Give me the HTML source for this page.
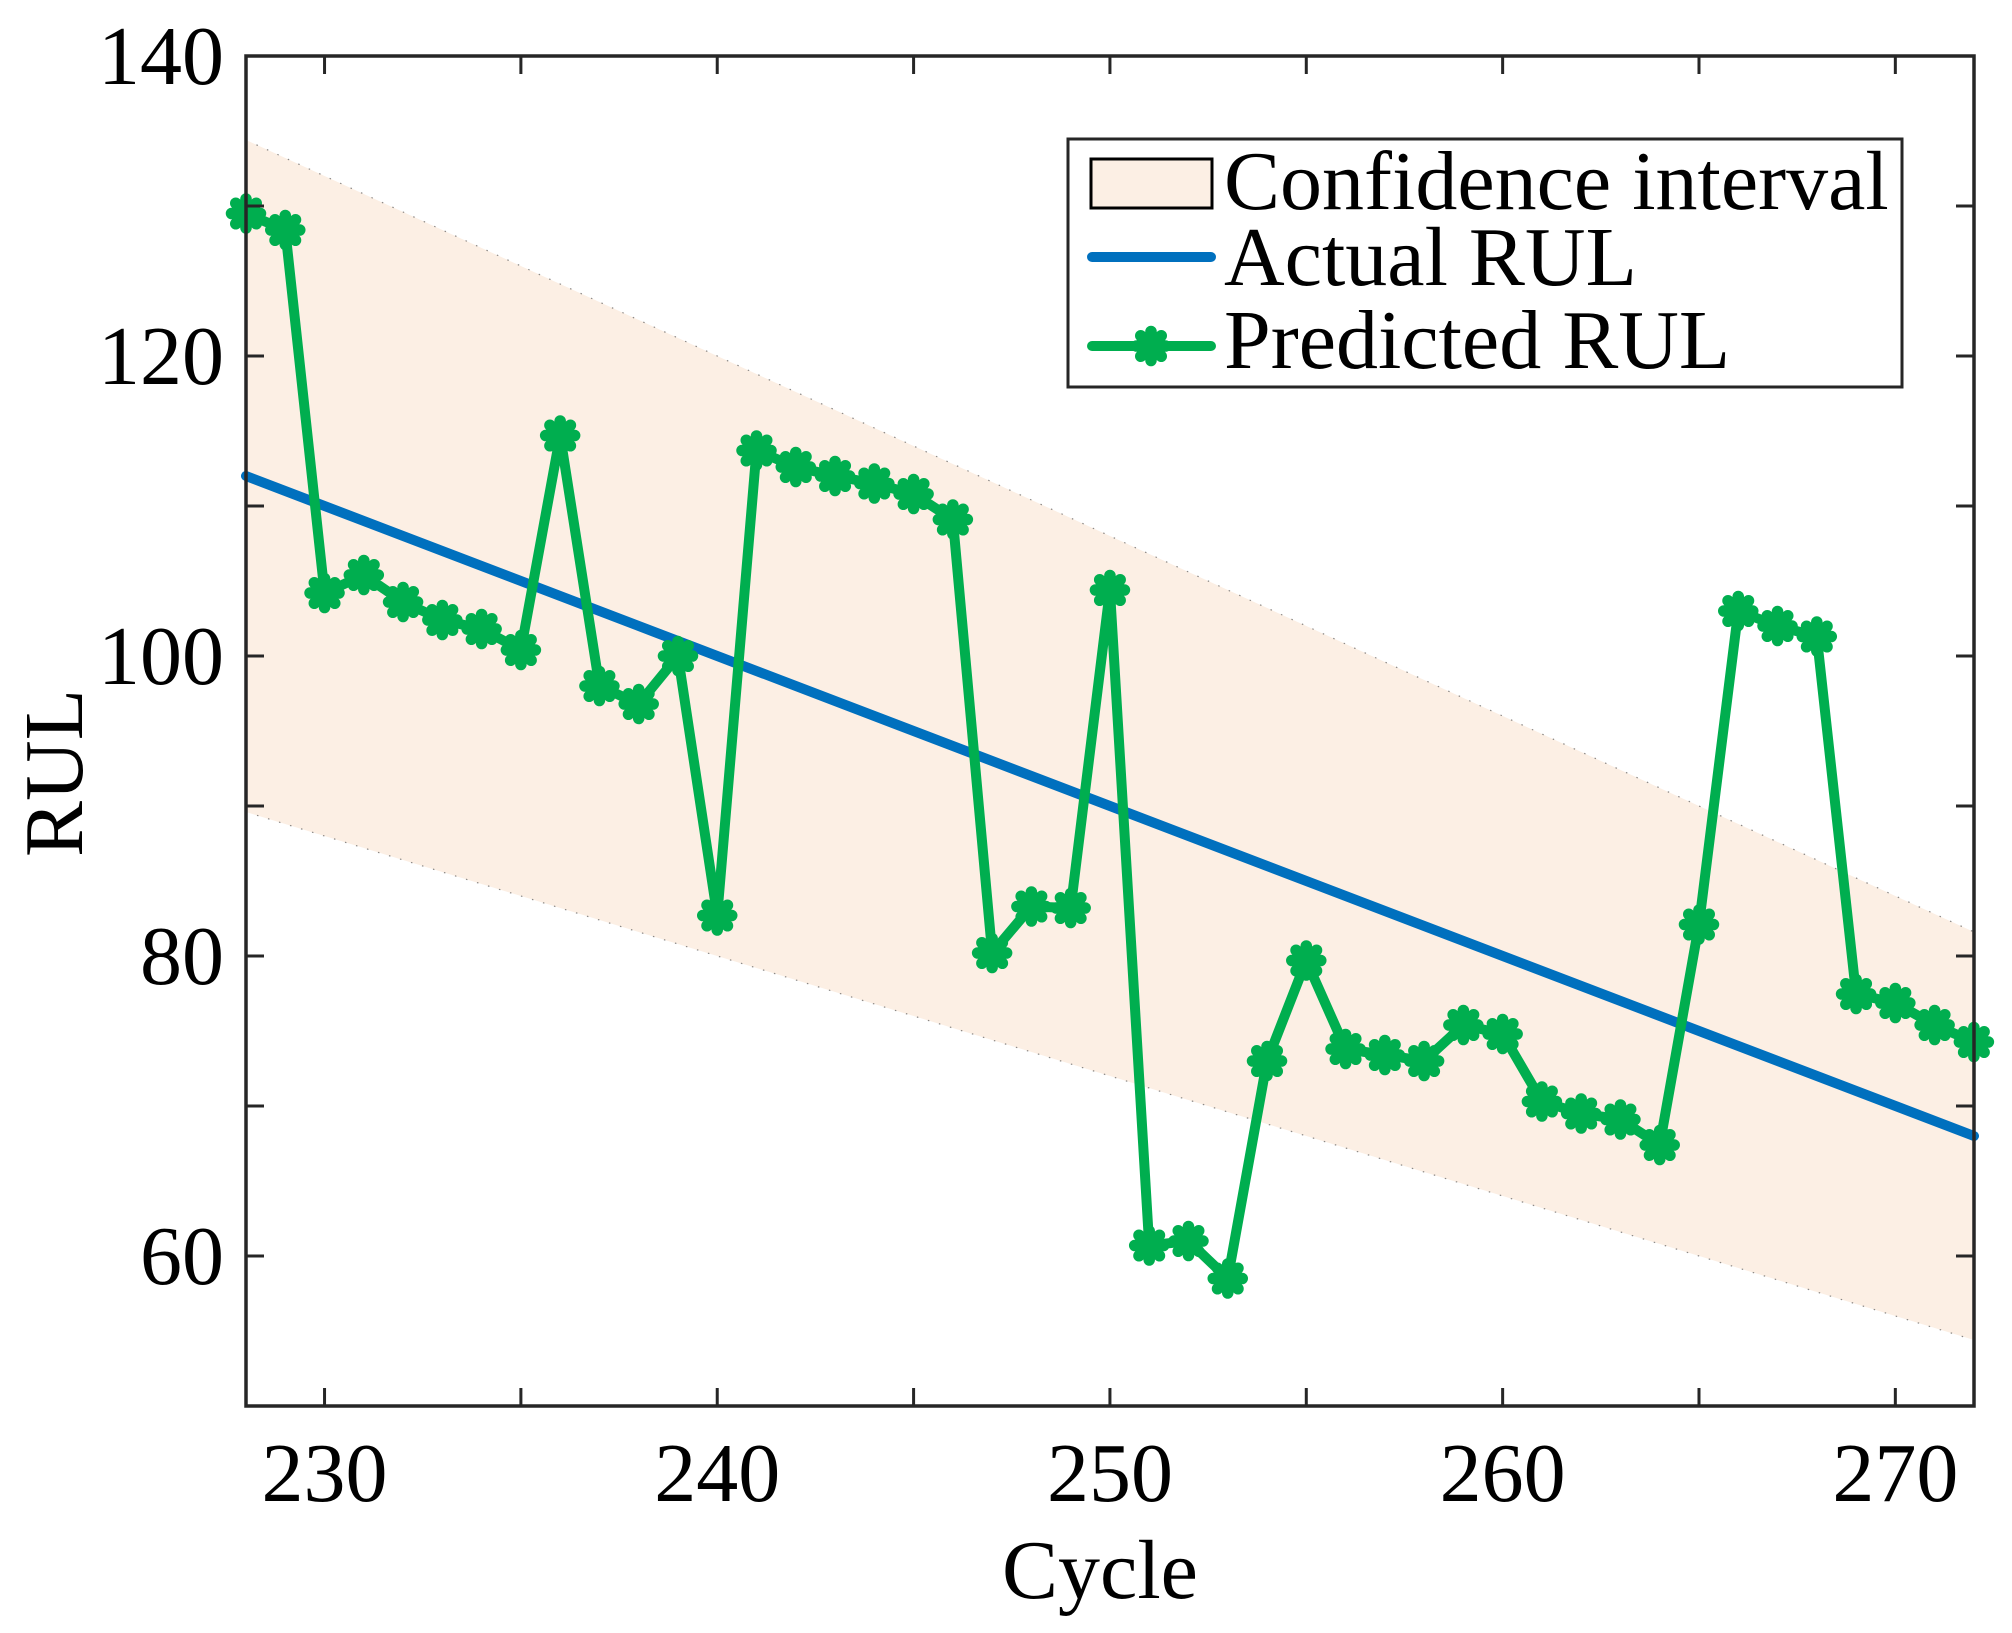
<!DOCTYPE html>
<html>
<head>
<meta charset="utf-8">
<style>
html,body{margin:0;padding:0;background:#fff;}
svg{display:block;}
text{font-family:"Liberation Serif","Times New Roman",serif;fill:#000;font-size:84px;}
</style>
</head>
<body>
<svg width="2012" height="1633" viewBox="0 0 2012 1633" xmlns="http://www.w3.org/2000/svg">
<defs>
<marker id="s" markerUnits="userSpaceOnUse" markerWidth="60" markerHeight="60" refX="30" refY="30" overflow="visible">
<path d="M15.5 30H44.5M30 15.5V44.5M19.75 19.75L40.25 40.25M19.75 40.25L40.25 19.75" stroke="#00AE4F" stroke-width="11.5" stroke-linecap="round" fill="none"/>
</marker>
</defs>
<rect width="2012" height="1633" fill="#fff"/>
<polygon points="246,140 1974,932 1974,1340 246,812" fill="#FCEFE4"/>
<path d="M246 140L1974 932M246 812L1974 1340" stroke="#000" stroke-width="1.2" stroke-dasharray="1.5 10" opacity="0.45" fill="none"/>
<line x1="246" y1="476" x2="1974" y2="1136" stroke="#0070BE" stroke-width="10" stroke-linecap="round"/>
<polyline fill="none" stroke="#00AE4F" stroke-width="10" stroke-linejoin="round" stroke-linecap="round" marker-start="url(#s)" marker-mid="url(#s)" marker-end="url(#s)" points="246,213.5 285.27,230 324.54,593 363.81,575 403.08,602 442.35,620 481.62,629 520.89,650 560.16,435.5 599.43,686 638.7,704 677.97,656 717.24,915.5 756.51,450.5 795.78,467 835.05,476 874.32,483.5 913.59,494 952.86,519.5 992.13,953 1031.4,906.5 1070.67,908 1109.94,590 1149.21,1245.5 1188.48,1241 1227.75,1278.5 1267.02,1061 1306.29,960.5 1345.56,1049 1384.83,1055 1424.1,1061 1463.37,1025 1502.64,1034 1541.91,1101.5 1581.18,1113.5 1620.45,1119.5 1659.72,1145 1698.99,924.5 1738.26,611 1777.53,626 1816.8,636.5 1856.07,994 1895.34,1003 1934.61,1025 1973.88,1042"/>
<rect x="246" y="56" width="1728" height="1350" fill="none" stroke="#262626" stroke-width="3.5"/>
<path stroke="#262626" stroke-width="3" fill="none" d="M324.54 1406v-18M520.89 1406v-18M717.24 1406v-18M913.59 1406v-18M1109.94 1406v-18M1306.29 1406v-18M1502.64 1406v-18M1698.99 1406v-18M1895.34 1406v-18M324.54 56v18M520.89 56v18M717.24 56v18M913.59 56v18M1109.94 56v18M1306.29 56v18M1502.64 56v18M1698.99 56v18M1895.34 56v18M246 1256h18M246 1106h18M246 956h18M246 806h18M246 656h18M246 506h18M246 356h18M246 206h18M1974 1256h-18M1974 1106h-18M1974 956h-18M1974 806h-18M1974 656h-18M1974 506h-18M1974 356h-18M1974 206h-18"/>
<text x="324.54" y="1501" text-anchor="middle">230</text>
<text x="717.24" y="1501" text-anchor="middle">240</text>
<text x="1109.94" y="1501" text-anchor="middle">250</text>
<text x="1502.64" y="1501" text-anchor="middle">260</text>
<text x="1895.34" y="1501" text-anchor="middle">270</text>
<text x="224" y="1284" text-anchor="end">60</text>
<text x="224" y="984" text-anchor="end">80</text>
<text x="224" y="684" text-anchor="end">100</text>
<text x="224" y="384" text-anchor="end">120</text>
<text x="224" y="84" text-anchor="end">140</text>
<text x="1100" y="1598" text-anchor="middle">Cycle</text>
<text transform="translate(82,773) rotate(-90)" text-anchor="middle">RUL</text>
<rect x="1068" y="139" width="834" height="248" fill="#fff" stroke="#262626" stroke-width="3"/>
<rect x="1091" y="159" width="121" height="49" fill="#FCEFE4" stroke="#000" stroke-width="3"/>
<line x1="1092" y1="257" x2="1211" y2="257" stroke="#0070BE" stroke-width="10" stroke-linecap="round"/>
<polyline points="1092,346 1151,346 1211,346" fill="none" stroke="#00AE4F" stroke-width="10" stroke-linecap="round" marker-mid="url(#s)"/>
<text x="1224" y="209">Confidence interval</text>
<text x="1224" y="285">Actual RUL</text>
<text x="1224" y="368">Predicted RUL</text>
</svg>
</body>
</html>
